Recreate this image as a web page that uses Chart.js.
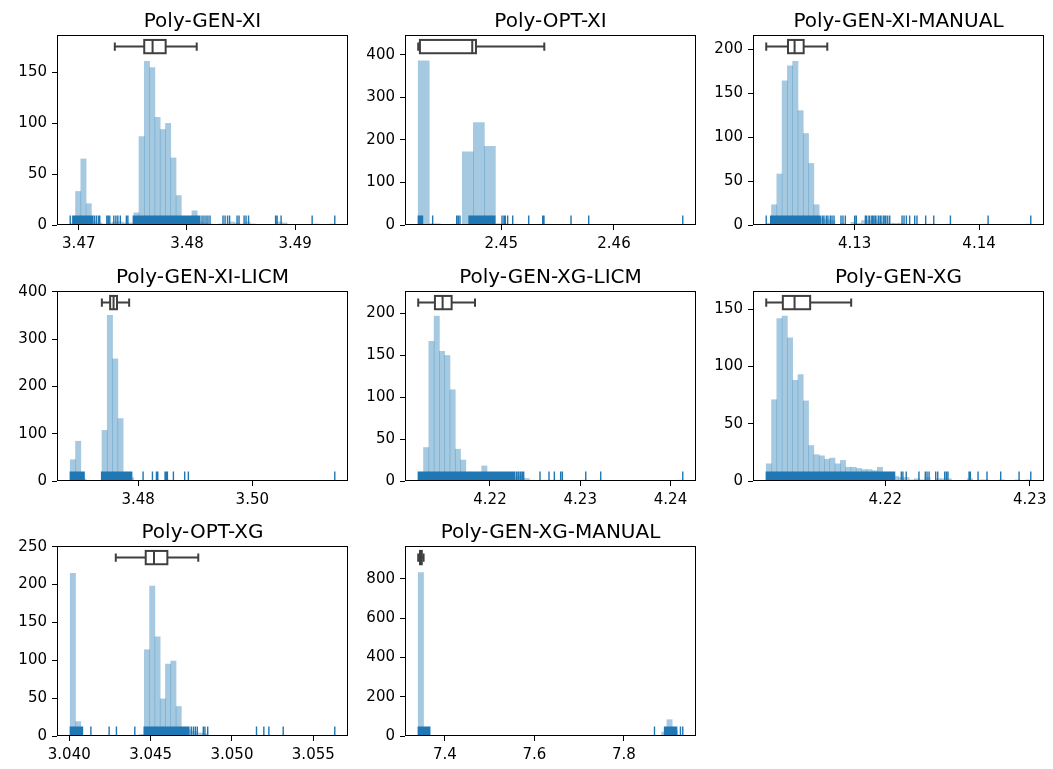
<!DOCTYPE html>
<html>
<head>
<meta charset="utf-8">
<title>Poly runtime distributions</title>
<script src="https://cdn.jsdelivr.net/npm/chart.js@4.4.1/dist/chart.umd.min.js"></script>
<style>
    html, body { margin: 0; padding: 0; background: #fff; }
    #figure { position: relative; width: 1053px; height: 769px; overflow: hidden; }
    #figure canvas { position: absolute; }
</style>
</head>
<body>
<div id="figure"></div>
<script>
// ---- data ----
const titles = ['Poly-GEN-XI', 'Poly-OPT-XI', 'Poly-GEN-XI-MANUAL', 'Poly-GEN-XI-LICM',
    'Poly-GEN-XG-LICM', 'Poly-GEN-XG', 'Poly-OPT-XG', 'Poly-GEN-XG-MANUAL'];

// histogram counts per bin (bins run evenly from the smallest to the largest sample)
// rug: single sample ticks; rugBands: stretches so dense the ticks merge into a block
// box: [lower whisker, q1, median, q3, upper whisker]

const genXiCounts = [2, 33, 65, 21, 3, 2, 1, 2, 3, 3, 2, 2, 12, 87, 161, 155, 106, 94, 100, 66,
    29, 3, 3, 14, 3, 2, 1, 0, 1, 1, 3, 2, 1, 3, 1, 0, 0, 0, 0, 3, 2, 0, 0, 0, 0, 0, 1, 0, 0, 1];
const genXiRug = [3.46921, 3.47144, 3.47162, 3.47181, 3.47194, 3.47259, 3.47273, 3.47287, 3.47324,
    3.47343, 3.47361, 3.47384, 3.4744, 3.47454, 3.48139, 3.48157, 3.48176, 3.48194, 3.48213, 3.48333,
    3.48352, 3.48375, 3.48394, 3.48463, 3.48481, 3.48528, 3.48546, 3.48569, 3.48819, 3.48833, 3.4887,
    3.49157, 3.49366];
const genXiRugBands = [[3.46944, 3.4713], [3.47503, 3.4812]];
const genXiBox = [3.47333, 3.47605, 3.47682, 3.47803, 3.4809];
const genXiXTicks = ['3.47', '3.48', '3.49'];
const genXiYTicks = [0, 50, 100, 150];

const optXiCounts = [386, 3, 0, 2, 172, 241, 185, 3, 2, 1, 0, 2, 0, 1, 0, 1, 0, 0, 0, 0, 0, 0, 0, 1];
const optXiRug = [2.44392, 2.44605, 2.44619, 2.44634, 2.45007, 2.45024, 2.45036, 2.45057, 2.45102,
    2.45244, 2.45368, 2.45379, 2.45619, 2.45776, 2.4661];
const optXiRugBands = [[2.44264, 2.44303], [2.44714, 2.44944]];
const optXiBox = [2.44264, 2.44279, 2.44743, 2.44776, 2.45382];
const optXiXTicks = ['2.45', '2.46'];
const optXiYTicks = [0, 100, 200, 300, 400];

const genXiManualCounts = [2, 23, 58, 164, 181, 186, 130, 104, 70, 23, 8, 6, 5, 0, 2, 0, 3, 2, 5, 5,
    6, 3, 1, 2, 2, 2, 1, 1, 1, 0, 1, 1, 0, 0, 1, 0, 0, 0, 0, 0, 0, 1, 0, 0, 0, 0, 0, 0, 0, 1];
const genXiManualRug = [4.12289, 4.1274, 4.12753, 4.12772, 4.12785, 4.12804, 4.12818, 4.12834, 4.1289,
    4.12906, 4.12925, 4.13, 4.13013, 4.13086, 4.13097, 4.13115, 4.13121, 4.13138, 4.13149, 4.13163,
    4.13171, 4.1319, 4.13204, 4.13212, 4.1323, 4.13243, 4.13251, 4.13266, 4.13282, 4.13381, 4.13397,
    4.13416, 4.13442, 4.13483, 4.13501, 4.13571, 4.13636, 4.1377, 4.14073, 4.14416];
const genXiManualRugBands = [[4.12324, 4.12724]];
const genXiManualBox = [4.12289, 4.12464, 4.12517, 4.1259, 4.1278];
const genXiManualXTicks = ['4.13', '4.14'];
const genXiManualYTicks = [0, 50, 100, 150, 200];

const genXiLicmCounts = [45, 84, 4, 0, 0, 1, 107, 350, 258, 132, 8, 7, 0, 1, 0, 1, 2, 1, 2, 1,
    0, 1, 1, 0, 0, 0, 0, 0, 0, 0, 0, 0, 0, 0, 0, 0, 0, 0, 0, 0, 0, 0, 0, 0, 0, 0, 0, 0, 0, 1];
const genXiLicmRug = [3.48087, 3.48251, 3.48321, 3.48344, 3.48472, 3.48495, 3.48513, 3.48618,
    3.48816, 3.4888, 3.51444];
const genXiLicmRugBands = [[3.46811, 3.47056], [3.47359, 3.47889]];
const genXiLicmBox = [3.47365, 3.4751, 3.4757, 3.4763, 3.47843];
const genXiLicmXTicks = ['3.48', '3.50'];
const genXiLicmYTicks = [0, 100, 200, 300, 400];

const genXgLicmCounts = [5, 40, 167, 197, 155, 150, 109, 38, 25, 10, 9, 8, 18, 7, 6, 6, 5, 5, 4, 6,
    3, 1, 0, 1, 1, 1, 1, 1, 0, 0, 0, 1, 0, 0, 1, 0, 0, 0, 0, 0, 0, 0, 0, 0, 0, 0, 0, 0, 0, 1];
const genXgLicmRug = [4.22296, 4.22314, 4.22333, 4.22344, 4.22362, 4.22373, 4.22554, 4.22654,
    4.22713, 4.22783, 4.22802, 4.23061, 4.23227, 4.24136];
const genXgLicmRugBands = [[4.21205, 4.22277]];
const genXgLicmBox = [4.21205, 4.2139, 4.21475, 4.21575, 4.21834];
const genXgLicmXTicks = ['4.22', '4.23', '4.24'];
const genXgLicmYTicks = [0, 50, 100, 150, 200];

const genXgCounts = [15, 71, 142, 144, 125, 88, 93, 70, 31, 23, 22, 19, 20, 15, 18, 12, 12, 11, 10, 10,
    9, 12, 7, 5, 4, 3, 3, 1, 2, 1, 3, 0, 2, 2, 2, 0, 0, 0, 2, 0, 1, 1, 0, 0, 1, 0, 0, 1, 0, 1];
const genXgRug = [4.22111, 4.22122, 4.22145, 4.22233, 4.22277, 4.22289, 4.22303, 4.22349, 4.22363,
    4.22411, 4.22423, 4.22434, 4.2258, 4.22589, 4.22642, 4.22704, 4.22799, 4.22926, 4.23007];
const genXgRugBands = [[4.21176, 4.22065]];
const genXgBox = [4.21176, 4.21291, 4.21372, 4.2148, 4.21764];
const genXgXTicks = ['4.22', '4.23'];
const genXgYTicks = [0, 50, 100, 150];

const optXgCounts = [215, 19, 0, 1, 0, 0, 0, 1, 1, 0, 0, 0, 1, 2, 114, 198, 131, 49, 95, 99,
    39, 10, 8, 6, 4, 3, 0, 0, 0, 0, 0, 0, 0, 0, 0, 1, 1, 1, 0, 0, 1, 0, 0, 0, 0, 0, 0, 0, 0, 1];
const optXgRug = [3.04133, 3.04245, 3.0429, 3.04403, 3.0475, 3.04763, 3.04775, 3.04787, 3.04824,
    3.04834, 3.04851, 3.05151, 3.05196, 3.05227, 3.05315, 3.05632];
const optXgRugBands = [[3.04006, 3.04082], [3.0446, 3.04736]];
const optXgBox = [3.04286, 3.0447, 3.04521, 3.04603, 3.04793];
const optXgXTicks = ['3.040', '3.045', '3.050', '3.055'];
const optXgYTicks = [0, 50, 100, 150, 200, 250];

const genXgManualCounts = [832, 30, 2, 0, 0, 0, 0, 0, 0, 0, 0, 0, 0, 0, 0, 0, 0, 0, 0, 0,
    0, 0, 0, 0, 0, 0, 0, 0, 0, 0, 0, 0, 0, 0, 0, 0, 0, 0, 0, 0, 0, 0, 0, 0, 3, 0, 20, 83, 25, 5];
const genXgManualRug = [7.8684, 7.92639, 7.9316];
const genXgManualRugBands = [[7.34052, 7.36654], [7.89071, 7.91822]];
const genXgManualBox = [7.3405, 7.3445, 7.3465, 7.3485, 7.3525];
const genXgManualXTicks = ['7.4', '7.6', '7.8'];
const genXgManualYTicks = [0, 200, 400, 600, 800];

// top of each y axis (counts)
const yTops = [187, 447, 216, 401.5, 227, 166, 251, 968];

// ---- layout and style ----
const colLeft = [57, 405, 753];
const rowTop = [35, 291, 546];
const AX_W = 291, AX_H = 190;
const PAD_L = 57, PAD_T = 35, PAD_R = 9, PAD_B = 30;
const HIST_FILL = 'rgba(31, 119, 180, 0.4)';
const RUG_COLOR = '#1f77b4';
const BOX_COLOR = '#3f3f3f';
const RUG_FRAC = 0.05;

Chart.defaults.font.family = '"DejaVu Sans", sans-serif';
Chart.defaults.font.size = 15;
Chart.defaults.color = '#000';

document.addEventListener('DOMContentLoaded', () => {
    const figure = document.getElementById('figure');

    const panels = [
        { counts: genXiCounts, rug: genXiRug, bands: genXiRugBands, box: genXiBox, xTicks: genXiXTicks, yTicks: genXiYTicks },
        { counts: optXiCounts, rug: optXiRug, bands: optXiRugBands, box: optXiBox, xTicks: optXiXTicks, yTicks: optXiYTicks },
        { counts: genXiManualCounts, rug: genXiManualRug, bands: genXiManualRugBands, box: genXiManualBox, xTicks: genXiManualXTicks, yTicks: genXiManualYTicks },
        { counts: genXiLicmCounts, rug: genXiLicmRug, bands: genXiLicmRugBands, box: genXiLicmBox, xTicks: genXiLicmXTicks, yTicks: genXiLicmYTicks },
        { counts: genXgLicmCounts, rug: genXgLicmRug, bands: genXgLicmRugBands, box: genXgLicmBox, xTicks: genXgLicmXTicks, yTicks: genXgLicmYTicks },
        { counts: genXgCounts, rug: genXgRug, bands: genXgRugBands, box: genXgBox, xTicks: genXgXTicks, yTicks: genXgYTicks },
        { counts: optXgCounts, rug: optXgRug, bands: optXgRugBands, box: optXgBox, xTicks: optXgXTicks, yTicks: optXgYTicks },
        { counts: genXgManualCounts, rug: genXgManualRug, bands: genXgManualRugBands, box: genXgManualBox, xTicks: genXgManualXTicks, yTicks: genXgManualYTicks },
    ];

    // rug, box and frame are drawn on top of the bars, positioned through the x scale
    function overlay(panel, title) {
        return {
            id: 'overlay',
            afterDatasetsDraw(chart) {
                const { ctx, chartArea: a, scales: { x } } = chart;
                const h = a.bottom - a.top;
                const rugTop = a.bottom - RUG_FRAC * h;
                ctx.save();
                ctx.fillStyle = RUG_COLOR;
                panel.bands.forEach(([s, e]) => {
                    const x0 = x.getPixelForValue(s);
                    const x1 = x.getPixelForValue(e);
                    ctx.fillRect(x0 - 0.6, rugTop, x1 - x0 + 1.2, a.bottom - rugTop);
                });
                ctx.strokeStyle = RUG_COLOR;
                ctx.lineWidth = 1.4;
                ctx.beginPath();
                panel.rug.forEach(v => {
                    const px = x.getPixelForValue(v);
                    ctx.moveTo(px, a.bottom);
                    ctx.lineTo(px, rugTop);
                });
                ctx.stroke();

                // horizontal box plot near the top of the axes
                const [lo, q1, med, q3, hi] = panel.box.map(v => x.getPixelForValue(v));
                const yc = a.bottom - 0.939 * h;
                const boxHalf = 0.035 * h;
                const capHalf = 0.022 * h;
                ctx.strokeStyle = BOX_COLOR;
                ctx.lineWidth = 2;
                ctx.beginPath();
                ctx.moveTo(lo, yc); ctx.lineTo(q1, yc);
                ctx.moveTo(q3, yc); ctx.lineTo(hi, yc);
                ctx.moveTo(lo, yc - capHalf); ctx.lineTo(lo, yc + capHalf);
                ctx.moveTo(hi, yc - capHalf); ctx.lineTo(hi, yc + capHalf);
                ctx.stroke();
                ctx.fillStyle = '#fff';
                ctx.fillRect(q1, yc - boxHalf, q3 - q1, 2 * boxHalf);
                ctx.strokeRect(q1, yc - boxHalf, q3 - q1, 2 * boxHalf);
                ctx.beginPath();
                ctx.moveTo(med, yc - boxHalf); ctx.lineTo(med, yc + boxHalf);
                ctx.stroke();
                ctx.restore();
            },
            afterDraw(chart) {
                const { ctx, chartArea: a } = chart;
                ctx.save();
                ctx.strokeStyle = '#000';
                ctx.lineWidth = 1;
                ctx.strokeRect(a.left + 0.5, a.top + 0.5, a.right - a.left - 1, a.bottom - a.top - 1);
                ctx.fillStyle = '#000';
                ctx.font = '20px "DejaVu Sans", sans-serif';
                ctx.textAlign = 'center';
                ctx.textBaseline = 'alphabetic';
                ctx.fillText(title, (a.left + a.right) / 2, a.top - 8.5);
                ctx.restore();
            }
        };
    }

    panels.forEach((panel, i) => {
        const canvas = document.createElement('canvas');
        canvas.width = PAD_L + AX_W + PAD_R;
        canvas.height = PAD_T + AX_H + PAD_B;
        canvas.style.left = (colLeft[i % 3] - PAD_L) + 'px';
        canvas.style.top = (rowTop[Math.floor(i / 3)] - PAD_T) + 'px';
        figure.appendChild(canvas);

        const samples = panel.rug.concat(...panel.bands);
        const lo = Math.min(...samples);
        const hi = Math.max(...samples);
        const margin = (hi - lo) * 0.05;
        const binWidth = (hi - lo) / panel.counts.length;
        const bars = panel.counts.map((c, k) => ({ x: lo + (k + 0.5) * binWidth, y: c }));

        new Chart(canvas, {
            type: 'bar',
            data: {
                datasets: [{
                    data: bars,
                    backgroundColor: HIST_FILL,
                    borderWidth: 0,
                    barPercentage: 1,
                    categoryPercentage: 1,
                }]
            },
            options: {
                responsive: false,
                animation: false,
                devicePixelRatio: 1,
                layout: { padding: { top: PAD_T, right: PAD_R, left: 0, bottom: 0 } },
                plugins: {
                    legend: { display: false },
                    title: { display: false },
                    tooltip: { enabled: false },
                },
                scales: {
                    x: {
                        type: 'linear',
                        min: lo - margin,
                        max: hi + margin,
                        offset: false,
                        grid: { offset: false, drawOnChartArea: false, tickLength: 5, tickColor: '#000', lineWidth: 1 },
                        border: { display: false },
                        afterBuildTicks: axis => { axis.ticks = panel.xTicks.map(t => ({ value: parseFloat(t) })); },
                        afterFit: axis => { axis.height = PAD_B; },
                        ticks: {
                            autoSkip: false,
                            maxRotation: 0,
                            padding: 5,
                            callback: (value, index) => panel.xTicks[index],
                        },
                    },
                    y: {
                        min: 0,
                        max: yTops[i],
                        grid: { drawOnChartArea: false, tickLength: 5, tickColor: '#000', lineWidth: 1 },
                        border: { display: false },
                        afterBuildTicks: axis => { axis.ticks = panel.yTicks.map(v => ({ value: v })); },
                        afterFit: axis => { axis.width = PAD_L; },
                        ticks: {
                            autoSkip: false,
                            padding: 5,
                            callback: value => String(value),
                        },
                    },
                },
            },
            plugins: [overlay(panel, titles[i])],
        });
    });
});
</script>
</body>
</html>
